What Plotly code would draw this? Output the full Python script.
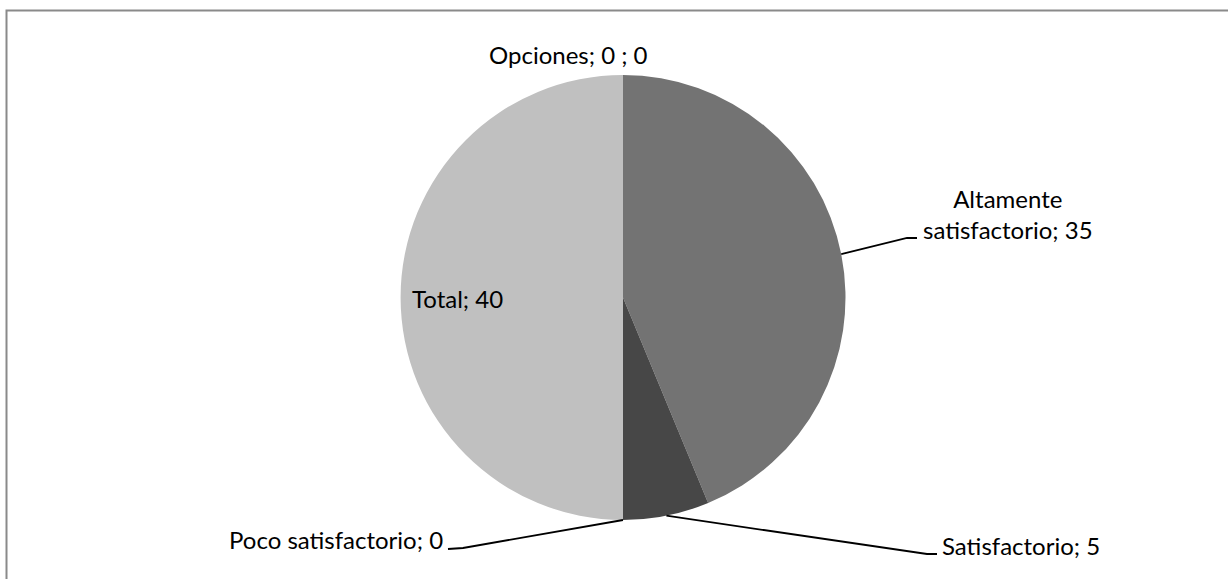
import math
import plotly.graph_objects as go

# --- data -------------------------------------------------------------
categories = ["Opciones", "Altamente satisfactorio", "Satisfactorio",
              "Poco satisfactorio", "Total"]
values = [0, 35, 5, 0, 40]
slice_colors = ["#a6a6a6", "#737373", "#474747", "#959595", "#c0c0c0"]

# --- geometry (pixels) ------------------------------------------------
W, H = 1228, 579
CX, CY, R = 623.0, 297.5, 222.5
FONT = "Lato"
FS = 24
ASC, DESC = 0.987, 0.213   # font ascent / descent in em


def fx(x):
    return x / W


def fy(y):
    return 1 - y / H


total = sum(values)
mid_angles = []
acc = 0.0
for v in values:
    mid_angles.append((acc + v / 2) / total * 360.0)
    acc += v


def edge_point(i):
    a = math.radians(mid_angles[i])
    return CX + R * math.sin(a), CY - R * math.cos(a)


def label_text(i):
    name = categories[i]
    if i == 0:
        return f"{name}; {values[i]} ; {values[i]}"
    if i == 1:
        name = name.replace(" ", "<br>", 1)
    return f"{name}; {values[i]}"


fig = go.Figure(
    go.Pie(
        labels=categories,
        values=values,
        sort=False,
        direction="clockwise",
        rotation=0,
        marker=dict(colors=slice_colors, line=dict(width=0)),
        textinfo="none",
        hoverinfo="label+value",
        domain=dict(x=[fx(CX - R), fx(CX + R)], y=[fy(CY + R), fy(CY - R)]),
        showlegend=False,
    )
)

# label placement: (x, baseline of last line, xanchor, elbow, line end)
placement = {
    0: dict(x=568, base=64, xanchor="center", elbow=None, end=None),
    1: dict(x=1008, base=239, xanchor="center", elbow=(907, 238), end=(917, 238)),
    2: dict(x=942, base=555, xanchor="left", elbow=(927, 554), end=(937, 554)),
    3: dict(x=443, base=549, xanchor="right", elbow=(463, 548), end=(448, 549)),
    4: dict(x=457.5, base=308, xanchor="center", elbow=None, end=None),
}

annotations = []
shapes = []
for i, p in placement.items():
    bottom = p["base"] + DESC * FS
    annotations.append(dict(
        x=fx(p["x"]), y=fy(bottom), xref="paper", yref="paper",
        xanchor=p["xanchor"], yanchor="bottom", align="center",
        text=label_text(i), showarrow=False,
        borderwidth=0, borderpad=0,
        font=dict(family=FONT, size=FS, color="#000000"),
    ))
    if p["elbow"] is not None:
        sx, sy = edge_point(i)
        ex, ey = p["elbow"]
        tx, ty = p["end"]
        path = (f"M {fx(sx)},{fy(sy)} L {fx(ex)},{fy(ey)} "
                f"L {fx(tx)},{fy(ty)}")
        shapes.append(dict(type="path", xref="paper", yref="paper", path=path,
                           line=dict(color="#000000", width=1.8)))

# chart-area frame
shapes.append(dict(type="rect", xref="paper", yref="paper",
                   x0=fx(6.5), x1=fx(W + 20), y0=fy(H + 20), y1=fy(10.5),
                   line=dict(color="#8a8a8a", width=2), fillcolor="rgba(0,0,0,0)"))

fig.update_layout(
    width=W, height=H,
    margin=dict(l=0, r=0, t=0, b=0),
    paper_bgcolor="#ffffff",
    plot_bgcolor="#ffffff",
    annotations=annotations,
    shapes=shapes,
    font=dict(family=FONT, size=FS, color="#000000"),
)

fig.write_html("out.html")
